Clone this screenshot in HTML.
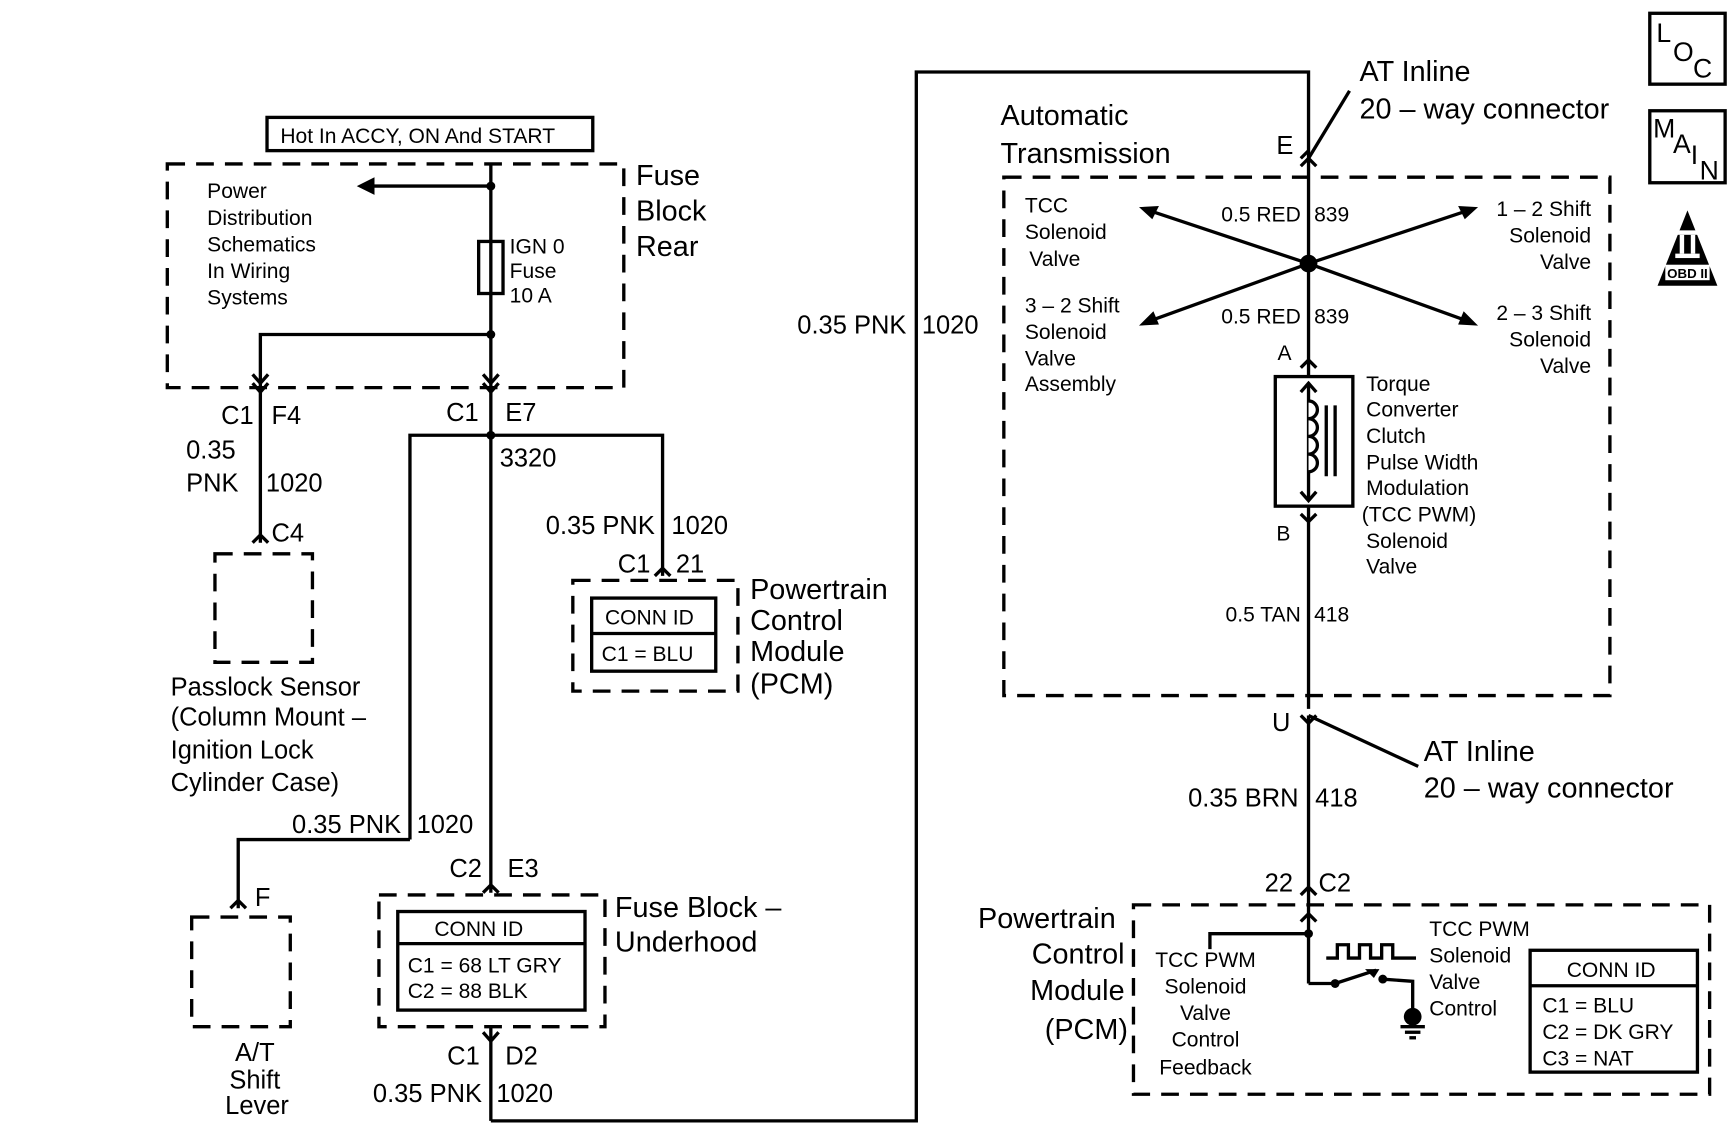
<!DOCTYPE html>
<html><head><meta charset="utf-8"><style>
html,body{margin:0;padding:0;background:#fff;}
svg{display:block}
text{font-family:"Liberation Sans Narrow","Liberation Sans",sans-serif;fill:#000;}
.b{font-size:26px}
.m{font-size:23px}
.s{font-size:19px}
.i{font-size:24px}
</style></head><body>
<svg width="1734" height="1143" viewBox="0 0 1565 1032" preserveAspectRatio="none" xmlns="http://www.w3.org/2000/svg">
<g fill="none" stroke="#000" stroke-width="3">
<rect x="241" y="106" width="294" height="30"/>
<rect x="151" y="148" width="412" height="202" stroke-dasharray="16,10"/>
<line x1="443" y1="148" x2="443" y2="806"/>
<line x1="443" y1="927" x2="443" y2="1012"/>
<line x1="443" y1="168" x2="335" y2="168"/>
<rect x="432" y="218" width="22" height="47"/>
<polyline points="443,302 235,302 235,490"/>
<path d="M228,338 L235,346 L242,338 M228,346 L235,354 L242,346"/>
<path d="M436,338 L443,346 L450,338 M436,346 L443,354 L450,346"/>
<path d="M228,490 L235,483 L242,490"/>
<rect x="194" y="500" width="88" height="98" stroke-dasharray="16,10"/>
<polyline points="370,758 370,393 598,393 598,520"/>
<path d="M591,520 L598,513 L605,520"/>
<rect x="517" y="524" width="149" height="100" stroke-dasharray="16,10"/>
<rect x="534" y="540" width="112" height="66"/>
<line x1="534" y1="572" x2="646" y2="572"/>
<polyline points="370,758 215,758 215,820"/>
<path d="M208,820 L215,813 L222,820"/>
<rect x="173" y="828" width="89" height="99" stroke-dasharray="16,10"/>
<path d="M436,806 L443,799 L450,806"/>
<rect x="342" y="808" width="204" height="119" stroke-dasharray="16,10"/>
<rect x="359" y="823" width="169" height="89"/>
<line x1="359" y1="852" x2="528" y2="852"/>
<path d="M436,932 L443,940 L450,932"/>
<polyline points="443,1012 827,1012 827,65 1181,65 1181,640"/>
<path d="M1174,150 L1181,143 L1188,150 M1174,143 L1181,136"/>
<line x1="1181" y1="143" x2="1218" y2="82"/>
<rect x="906" y="160" width="547" height="468" stroke-dasharray="16,10"/>
<line x1="1181" y1="238" x2="1040" y2="191"/>
<line x1="1181" y1="238" x2="1322" y2="191"/>
<line x1="1181" y1="238" x2="1040" y2="289"/>
<line x1="1181" y1="238" x2="1322" y2="289"/>
<path d="M1174,332 L1181,325 L1188,332"/>
<rect x="1151" y="340" width="70" height="117" fill="#fff"/>
<line x1="1181" y1="346" x2="1181" y2="452"/>
<path d="M1174,354 L1181,346 L1188,354 M1174,444 L1181,452 L1188,444"/>
<path d="M1181,362 a8,8 0 0 1 0,16 a8,8 0 0 1 0,16 a8,8 0 0 1 0,16 a8,8 0 0 1 0,16" fill="#fff"/>
<line x1="1197" y1="366" x2="1197" y2="430"/>
<line x1="1205" y1="366" x2="1205" y2="430"/>
<path d="M1174,464 L1181,471 L1188,464"/>
<path d="M1174,646 L1181,653 L1188,646"/>
<line x1="1181" y1="646" x2="1280" y2="692"/>
<line x1="1181" y1="646" x2="1181" y2="888"/>
<path d="M1174,808 L1181,801 L1188,808"/>
<rect x="1023" y="817" width="520" height="171" stroke-dasharray="16,10"/>
<path d="M1174,832 L1181,825 L1188,832"/>
<polyline points="1181,843 1092,843 1092,857"/>
<polyline points="1181,888 1205,888"/>
<line x1="1205" y1="888" x2="1242" y2="876"/>
<polyline points="1247,884 1275,886 1275,912"/>
<polyline points="1197,865 1207,865 1207,853 1217,853 1217,865 1227,865 1227,853 1237,853 1237,865 1247,865 1247,853 1257,853 1257,865 1278,865"/>
<line x1="1264" y1="927" x2="1286" y2="927"/>
<line x1="1268" y1="932" x2="1282" y2="932"/>
<line x1="1272" y1="937" x2="1278" y2="937"/>
<rect x="1381" y="858" width="151" height="110"/>
<line x1="1381" y1="890" x2="1532" y2="890"/>
<rect x="1489" y="12" width="68" height="64"/>
<rect x="1489" y="100" width="68" height="65"/>
</g>
<g fill="#000">
<circle cx="443" cy="168" r="4"/><circle cx="443" cy="302" r="4"/><circle cx="443" cy="393" r="4"/>
<polygon points="322,168 338,160 338,176"/>
<circle cx="1181" cy="238" r="8"/>
<polygon points="1028,187 1046,186 1040,198"/>
<polygon points="1334,187 1316,186 1322,198"/>
<polygon points="1028,294 1041,281 1046,293"/>
<polygon points="1334,294 1321,281 1316,293"/>
<circle cx="1181" cy="843" r="4"/><circle cx="1205" cy="888" r="4"/><circle cx="1248" cy="884" r="4"/>
<polygon points="1245,875 1232,875 1240,883"/>
<circle cx="1275" cy="918" r="8"/>
<polygon points="1523,190 1496,258 1550,258"/>
</g>
<rect x="1503" y="239" width="40" height="14" fill="#fff"/>
<rect x="1512" y="208" width="22" height="4" fill="#fff"/><rect x="1512" y="229" width="22" height="4" fill="#fff"/>
<rect x="1516" y="212" width="4" height="17" fill="#fff"/><rect x="1526" y="212" width="4" height="17" fill="#fff"/>
<text x="1523" y="251" style="font-size:12px;font-weight:bold" text-anchor="middle">OBD II</text>
<text x="1495" y="38" class="i">L</text><text x="1510" y="55" class="i">O</text><text x="1528" y="70" class="i">C</text>
<text x="1492" y="124" class="i">M</text><text x="1510" y="138" class="i">A</text><text x="1526" y="148" class="i">I</text><text x="1534" y="162" class="i">N</text>

<text x="253" y="129" class="s">Hot In ACCY, ON And START</text>
<text x="574" y="167" class="b">Fuse</text><text x="574" y="199" class="b">Block</text><text x="574" y="231" class="b">Rear</text>
<text x="187" y="179" class="s">Power</text><text x="187" y="203" class="s">Distribution</text><text x="187" y="227" class="s">Schematics</text><text x="187" y="251" class="s">In Wiring</text><text x="187" y="275" class="s">Systems</text>
<text x="460" y="229" class="s">IGN 0</text><text x="460" y="251" class="s">Fuse</text><text x="460" y="273" class="s">10 A</text>
<text x="229" y="383" class="m" text-anchor="end">C1</text><text x="245" y="383" class="m">F4</text>
<text x="168" y="414" class="m">0.35</text><text x="168" y="444" class="m">PNK</text><text x="240" y="444" class="m">1020</text>
<text x="245" y="489" class="m">C4</text>
<text x="154" y="628" class="m">Passlock Sensor</text><text x="154" y="655" class="m">(Column Mount –</text><text x="154" y="685" class="m">Ignition Lock</text><text x="154" y="714" class="m">Cylinder Case)</text>
<text x="432" y="380" class="m" text-anchor="end">C1</text><text x="456" y="380" class="m">E7</text>
<text x="451" y="421" class="m">3320</text>
<text x="591" y="482" class="m" text-anchor="end">0.35 PNK</text><text x="606" y="482" class="m">1020</text>
<text x="587" y="517" class="m" text-anchor="end">C1</text><text x="610" y="517" class="m">21</text>
<text x="546" y="564" class="s">CONN ID</text><text x="543" y="597" class="s">C1 = BLU</text>
<text x="677" y="541" class="b">Powertrain</text><text x="677" y="569" class="b">Control</text><text x="677" y="597" class="b">Module</text><text x="677" y="626" class="b">(PCM)</text>
<text x="362" y="752" class="m" text-anchor="end">0.35 PNK</text><text x="376" y="752" class="m">1020</text>
<text x="230" y="818" class="m">F</text>
<text x="230" y="958" class="m" text-anchor="middle">A/T</text><text x="230" y="983" class="m" text-anchor="middle">Shift</text><text x="232" y="1006" class="m" text-anchor="middle">Lever</text>
<text x="435" y="792" class="m" text-anchor="end">C2</text><text x="458" y="792" class="m">E3</text>
<text x="392" y="845" class="s">CONN ID</text><text x="368" y="878" class="s">C1 = 68 LT GRY</text><text x="368" y="901" class="s">C2 = 88 BLK</text>
<text x="555" y="828" class="b">Fuse Block –</text><text x="555" y="859" class="b">Underhood</text>
<text x="433" y="961" class="m" text-anchor="end">C1</text><text x="456" y="961" class="m">D2</text>
<text x="435" y="995" class="m" text-anchor="end">0.35 PNK</text><text x="448" y="995" class="m">1020</text>
<text x="818" y="301" class="m" text-anchor="end">0.35 PNK</text><text x="832" y="301" class="m">1020</text>
<text x="1227" y="73" class="b">AT Inline</text><text x="1227" y="107" class="b">20 – way connector</text>
<text x="903" y="113" class="b">Automatic</text><text x="903" y="147" class="b">Transmission</text>
<text x="1152" y="139" class="m">E</text>
<text x="925" y="192" class="s">TCC</text><text x="925" y="216" class="s">Solenoid</text><text x="929" y="240" class="s">Valve</text>
<text x="925" y="282" class="s">3 – 2 Shift</text><text x="925" y="306" class="s">Solenoid</text><text x="925" y="330" class="s">Valve</text><text x="925" y="353" class="s">Assembly</text>
<text x="1436" y="195" class="s" text-anchor="end">1 – 2 Shift</text><text x="1436" y="219" class="s" text-anchor="end">Solenoid</text><text x="1436" y="243" class="s" text-anchor="end">Valve</text>
<text x="1436" y="289" class="s" text-anchor="end">2 – 3 Shift</text><text x="1436" y="313" class="s" text-anchor="end">Solenoid</text><text x="1436" y="337" class="s" text-anchor="end">Valve</text>
<text x="1174" y="200" class="s" text-anchor="end">0.5 RED</text><text x="1186" y="200" class="s">839</text>
<text x="1174" y="292" class="s" text-anchor="end">0.5 RED</text><text x="1186" y="292" class="s">839</text>
<text x="1153" y="325" class="s">A</text><text x="1152" y="488" class="s">B</text>
<text x="1233" y="353" class="s">Torque</text><text x="1233" y="376" class="s">Converter</text><text x="1233" y="400" class="s">Clutch</text><text x="1233" y="424" class="s">Pulse Width</text><text x="1233" y="447" class="s">Modulation</text><text x="1229" y="471" class="s">(TCC PWM)</text><text x="1233" y="495" class="s">Solenoid</text><text x="1233" y="518" class="s">Valve</text>
<text x="1174" y="561" class="s" text-anchor="end">0.5 TAN</text><text x="1186" y="561" class="s">418</text>
<text x="1148" y="660" class="m">U</text>
<text x="1285" y="687" class="b">AT Inline</text><text x="1285" y="720" class="b">20 – way connector</text>
<text x="1172" y="728" class="m" text-anchor="end">0.35 BRN</text><text x="1187" y="728" class="m">418</text>
<text x="1167" y="805" class="m" text-anchor="end">22</text><text x="1190" y="805" class="m">C2</text>
<text x="1007" y="838" class="b" text-anchor="end">Powertrain</text><text x="1015" y="870" class="b" text-anchor="end">Control</text><text x="1015" y="903" class="b" text-anchor="end">Module</text><text x="1018" y="938" class="b" text-anchor="end">(PCM)</text>
<text x="1088" y="873" class="s" text-anchor="middle">TCC PWM</text><text x="1088" y="897" class="s" text-anchor="middle">Solenoid</text><text x="1088" y="921" class="s" text-anchor="middle">Valve</text><text x="1088" y="945" class="s" text-anchor="middle">Control</text><text x="1088" y="970" class="s" text-anchor="middle">Feedback</text>
<text x="1290" y="845" class="s">TCC PWM</text><text x="1290" y="869" class="s">Solenoid</text><text x="1290" y="893" class="s">Valve</text><text x="1290" y="917" class="s">Control</text>
<text x="1414" y="882" class="s">CONN ID</text><text x="1392" y="914" class="s">C1 = BLU</text><text x="1392" y="938" class="s">C2 = DK GRY</text><text x="1392" y="962" class="s">C3 = NAT</text>
</svg>
</body></html>
